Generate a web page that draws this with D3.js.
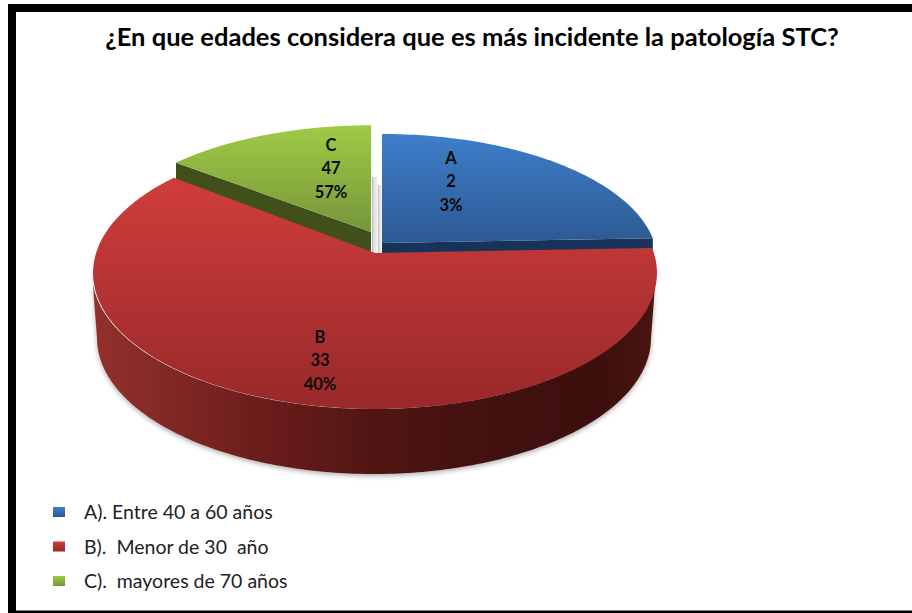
<!DOCTYPE html>
<html><head><meta charset="utf-8">
<script src="https://cdn.jsdelivr.net/npm/d3@7/dist/d3.min.js"></script>
<style>html,body{margin:0;padding:0;background:#fff}svg{display:block}text{font-family:Lato,"Open Sans",sans-serif}</style>
</head><body><svg id="c" width="912" height="613"></svg>
<script>
const titleText = "¿En que edades considera que es más incidente la patología STC?";
const categories = ["A", "B", "C"];
const legendLabels = ["A). Entre 40 a 60 años", "B).  Menor de 30  año", "C).  mayores de 70 años"];
const counts = [2, 33, 47];
const percents = ["3%", "40%", "57%"];
const drawnShares = [24.4, 61.2, 14.4];

const svg = d3.select("#c"), defs = svg.append("defs");
const W = 912, H = 613;
svg.append("rect").attr("width", W).attr("height", H).attr("fill", "#fff");
svg.append("rect").attr("x", 8).attr("y", 4).attr("width", W - 8).attr("height", H - 4).attr("fill", "#000");
svg.append("rect").attr("x", 16).attr("y", 12).attr("width", W - 16).attr("height", 598.5).attr("fill", "#fff");

// ellipse model of the tilted disc
const E = {cx: 374, cy: 273, rx: 282, ry: 136, a: -0.147};
const apex0 = {x: E.cx, y: E.cy + E.ry * E.a};
function proj(theta) {
  const u = Math.sin(theta), v = -Math.cos(theta), d = 1 + E.a * v;
  return {x: E.cx + E.rx * u * Math.sqrt(1 - E.a * E.a) / d, y: E.cy + E.ry * (v + E.a) / d};
}
const sliceStyle = [
  {ax: 382, ay: 243, sx: .977, sy: .94, c0: "#3e7ecb", c1: "#2c5a92", y0: 134, y1: 243, wall: "#17335a"},
  {ax: 375, ay: 253, sx: 1, sy: 1, c0: "#cf3d3b", c1: "#98292a", y0: 180, y1: 409, wall: "#000"},
  {ax: 371, ay: 232, sx: .97, sy: .92, c0: "#9fcb46", c1: "#76963a", y0: 126, y1: 232, wall: "#414f1a"}
];
const arcs = d3.pie().sort(null).value(d => d)(drawnShares);
const line = d3.line().x(d => d.x).y(d => d.y);
function pt(theta, s) {
  const p = proj(theta);
  return {x: s.ax + s.sx * (p.x - apex0.x), y: s.ay + s.sy * (p.y - apex0.y)};
}
function slicePts(a, s) {
  const n = 90, pts = [{x: s.ax, y: s.ay}];
  d3.range(n + 1).forEach(i => pts.push(pt(a.startAngle + (a.endAngle - a.startAngle) * i / n, s)));
  return pts;
}
sliceStyle.forEach((s, i) => {
  const g = defs.append("linearGradient").attr("id", "top" + i).attr("gradientUnits", "userSpaceOnUse")
    .attr("x1", 0).attr("x2", 0).attr("y1", s.y0).attr("y2", s.y1);
  g.append("stop").attr("offset", 0).attr("stop-color", s.c0);
  g.append("stop").attr("offset", 1).attr("stop-color", s.c1);
});
const sg = defs.append("linearGradient").attr("id", "side").attr("gradientUnits", "userSpaceOnUse")
  .attr("x1", 92).attr("x2", 656).attr("y1", 0).attr("y2", 0);
[[0, "#92302c"], [.1, "#862b27"], [.3, "#6b1d1b"], [.5, "#501513"], [.7, "#421110"], [.9, "#3c0f0d"], [1, "#4a1512"]]
  .forEach(d => sg.append("stop").attr("offset", d[0]).attr("stop-color", d[1]));
const wg = defs.append("linearGradient").attr("id", "gap").attr("x1", 0).attr("x2", 1).attr("y1", 0).attr("y2", 0);
[[0, "#a8a8a8"], [.22, "#dcdcdc"], [.6, "#e8e8e8"], [1, "#f6f6f6"]]
  .forEach(d => wg.append("stop").attr("offset", d[0]).attr("stop-color", d[1]));
defs.append("filter").attr("id", "blur").attr("x", "-10%").attr("y", "-10%").attr("width", "120%").attr("height", "120%")
  .append("feGaussianBlur").attr("stdDeviation", 2.5);

// side of the main slice
const bottom = {cx: 374, cy: 338, rx: 277, ry: 136};
const sidePts = [];
d3.range(0, 181).forEach(i => { const t = Math.PI * i / 180; sidePts.push({x: E.cx + E.rx * Math.cos(t), y: E.cy + E.ry * Math.sin(t)}); });
d3.range(180, -1, -1).forEach(i => { const t = Math.PI * i / 180; sidePts.push({x: bottom.cx + bottom.rx * Math.cos(t), y: bottom.cy + bottom.ry * Math.sin(t)}); });

svg.append("path").attr("d", line(sidePts) + "Z").attr("fill", "#777").attr("opacity", .6)
  .attr("filter", "url(#blur)").attr("transform", "translate(0,2)");

// central gap wall
svg.append("rect").attr("x", 372).attr("y", 177).attr("width", 6).attr("height", 77).attr("fill", "url(#gap)");
svg.append("rect").attr("x", 378).attr("y", 185).attr("width", 4).attr("height", 69).attr("fill", "url(#gap)");

// cut faces of the slices set apart, hidden by the main slice in front
[0, 2].forEach(i => {
  const s = sliceStyle[i], d = 40, a = arcs[i];
  const edge = i === 0 ? a.endAngle : a.startAngle, e = pt(edge, s);
  svg.append("path").attr("d", line([{x: s.ax, y: s.ay}, e, {x: e.x, y: e.y + d}, {x: s.ax, y: s.ay + d}]) + "Z").attr("fill", s.wall);
});

svg.append("path").attr("d", line(sidePts) + "Z").attr("fill", "url(#side)");
[0, 2, 1].forEach(i => {
  svg.append("path").attr("d", line(slicePts(arcs[i], sliceStyle[i])) + "Z").attr("fill", `url(#top${i})`);
});

// data labels
const labelPos = [[451, 158], [320, 337], [331, 145]];
categories.forEach((c, i) => {
  [c, counts[i], percents[i]].forEach((t, k) => {
    svg.append("text").attr("x", labelPos[i][0]).attr("y", labelPos[i][1] + k * 23.5 + 5.5)
      .attr("text-anchor", "middle").attr("font-size", 16.5).attr("font-weight", 700).attr("fill", "#0b0b0b").text(t);
  });
});

// title
svg.append("text").attr("x", 472).attr("y", 46).attr("text-anchor", "middle")
  .attr("font-size", 25.5).attr("font-weight", 700).attr("fill", "#000").text(titleText);

// legend
const legendY = d3.scalePoint().domain(categories).range([512, 581]);
categories.forEach((c, i) => {
  const y = legendY(c);
  const g = defs.append("linearGradient").attr("id", "leg" + i).attr("x1", 0).attr("x2", 0).attr("y1", 0).attr("y2", 1);
  g.append("stop").attr("offset", 0).attr("stop-color", sliceStyle[i].c0);
  g.append("stop").attr("offset", 1).attr("stop-color", sliceStyle[i].c1);
  svg.append("rect").attr("x", 53).attr("y", y - 5).attr("width", 12).attr("height", 10).attr("fill", `url(#leg${i})`);
  svg.append("text").attr("x", 84).attr("y", y + 7).attr("font-size", 19.5).attr("fill", "#222").style("white-space", "pre").text(legendLabels[i]);
});
</script></body></html>
